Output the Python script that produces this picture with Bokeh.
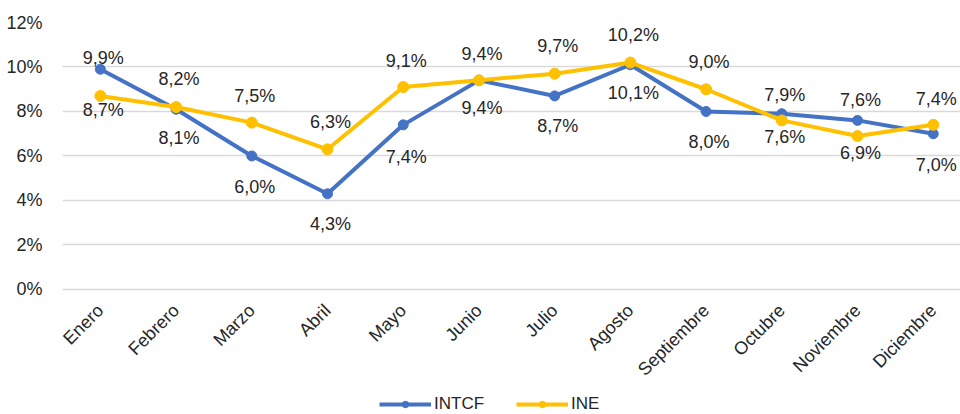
from bokeh.plotting import figure
from bokeh.models import (ColumnDataSource, Range1d, FixedTicker, PrintfTickFormatter,
                          Legend, LegendItem)
from bokeh.embed import file_html
from bokeh.resources import INLINE
from bokeh.core.properties import value

months = ["Enero", "Febrero", "Marzo", "Abril", "Mayo", "Junio", "Julio",
          "Agosto", "Septiembre", "Octubre", "Noviembre", "Diciembre"]
intcf = [9.9, 8.1, 6.0, 4.3, 7.4, 9.4, 8.7, 10.1, 8.0, 7.9, 7.6, 7.0]
ine = [8.7, 8.2, 7.5, 6.3, 9.1, 9.4, 9.7, 10.2, 9.0, 7.6, 6.9, 7.4]
y_ticks = [0, 2, 4, 6, 8, 10, 12]

# label pixel offsets (layout only; positive = down)
intcf_off = [-11, 29, 31, 30, 32, -26, 30, 28, 31, -19, -20, 31]
ine_off = [14, -28, -27, -27, -26, 28, -28, -28, -27, 17, 17, -26]

BLUE = "#4472C4"
GOLD = "#FFC000"
FONT = "Liberation Sans"
TXT = "#262626"

xs = list(range(len(months)))

# frame spans the full lower area so the legend can sit at the bottom;
# the x axis is pinned at y = 0
p = figure(width=960, height=414, output_backend="svg", toolbar_location=None,
           x_range=Range1d(-0.5, 11.36), y_range=Range1d(-5.618, 12),
           min_border_left=62, min_border_right=0, min_border_top=22,
           min_border_bottom=0)
p.outline_line_color = None
p.background_fill_color = "white"
p.border_fill_color = "white"

p.xgrid.grid_line_color = None
p.ygrid.grid_line_color = "#D9D9D9"
p.ygrid.grid_line_width = 1.5

p.yaxis.ticker = FixedTicker(ticks=y_ticks)
p.yaxis.formatter = PrintfTickFormatter(format="%d%%")
p.xaxis.ticker = FixedTicker(ticks=xs)
p.xaxis.major_label_overrides = {i: m for i, m in zip(xs, months)}
p.xaxis.major_label_orientation = 0.785398
p.xaxis.fixed_location = 0
for ax in (p.xaxis, p.yaxis):
    ax.axis_line_color = None
    ax.major_tick_line_color = None
    ax.minor_tick_line_color = None
    ax.major_label_text_font = FONT
    ax.major_label_text_font_size = "18px"
    ax.major_label_text_color = TXT
p.yaxis.major_label_standoff = 14
p.xaxis.major_label_standoff = 12

src_b = ColumnDataSource(dict(x=xs, y=intcf,
                              lab=[f"{v:.1f}%".replace(".", ",") for v in intcf],
                              dy=intcf_off))
src_g = ColumnDataSource(dict(x=xs, y=ine,
                              lab=[f"{v:.1f}%".replace(".", ",") for v in ine],
                              dy=ine_off))

lb = p.line("x", "y", source=src_b, line_color=BLUE, line_width=4)
sb = p.scatter("x", "y", source=src_b, size=10, fill_color=BLUE, line_color=BLUE)
lg = p.line("x", "y", source=src_g, line_color=GOLD, line_width=4)
sg = p.scatter("x", "y", source=src_g, size=11, fill_color=GOLD, line_color=GOLD)

for src in (src_b, src_g):
    p.text("x", "y", text="lab", source=src, y_offset="dy", x_offset=3,
           text_align="center", text_baseline="middle",
           text_font=value(FONT), text_font_size="18px", text_color=TXT)

legend = Legend(items=[LegendItem(label="INTCF", renderers=[lb, sb]),
                       LegendItem(label="INE", renderers=[lg, sg])],
                location=(317, 0), orientation="horizontal")
legend.border_line_color = None
legend.background_fill_alpha = 0
legend.padding = 0
legend.margin = 0
legend.glyph_width = 52
legend.glyph_height = 16
legend.label_height = 16
legend.label_standoff = 3
legend.spacing = 32
legend.label_text_font = FONT
legend.label_text_font_size = "17px"
legend.label_text_color = TXT
p.add_layout(legend)

open("out.html", "w").write(file_html(p, INLINE))
